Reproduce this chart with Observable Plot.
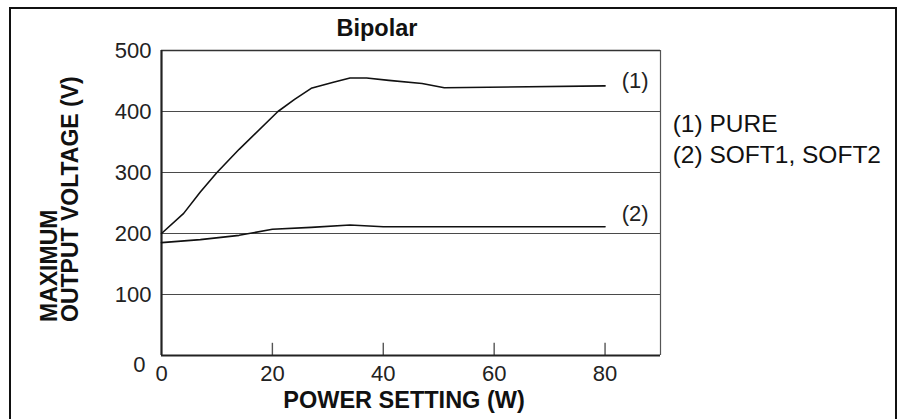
<!DOCTYPE html>
<html>
<head>
<meta charset="utf-8">
<script src="https://cdn.jsdelivr.net/npm/d3@7"></script>
<script src="https://cdn.jsdelivr.net/npm/@observablehq/plot@0.6"></script>
<style>
  html, body { margin: 0; padding: 0; background: #fff; }
  #wrap { position: relative; width: 901px; height: 419px; overflow: hidden; }
  #border { position: absolute; left: 9px; top: 7px; width: 888px; height: 430px; border: 2px solid #111; box-sizing: border-box; }
  #chart { position: absolute; left: 0; top: 0; }
</style>
</head>
<body>
<div id="wrap"><div id="border"></div><div id="chart"></div></div>
<script>
// Curve (1) PURE
const power1 = [0, 4, 7, 10, 14, 21, 24, 27, 31, 34, 37, 41, 47, 51, 80];
const volt1  = [200, 233, 268, 300, 338, 400, 420, 438, 448, 455, 455, 451, 446, 439, 442];
// Curve (2) SOFT1, SOFT2
const power2 = [0, 7, 14, 20, 27, 34, 40, 80];
const volt2  = [185, 190, 197, 207, 210, 214, 211, 211];

const xTicks = [0, 20, 40, 60, 80];
const yTicks = [0, 100, 200, 300, 400, 500];
const gridY = [100, 200, 300, 400];

const curveTags = ["(1)", "(2)"];
const tagX = [83, 83];
const tagY = [450, 232];

const legendLines = ["(1) PURE", "(2) SOFT1, SOFT2"];
const legendX = [92.2, 92.2];
const legendY = [380, 328];

const title = "Bipolar";
const xLabel = "POWER SETTING (W)";
const yLabel = "MAXIMUM\nOUTPUT VOLTAGE (V)";

const s1 = power1.map((p, i) => ({power: p, volt: volt1[i]}));
const s2 = power2.map((p, i) => ({power: p, volt: volt2[i]}));
const tags = curveTags.map((t, i) => ({t, x: tagX[i], y: tagY[i]}));
const legend = legendLines.map((t, i) => ({t, x: legendX[i], y: legendY[i]}));

const font = "'Liberation Sans', Arial, Helvetica, sans-serif";

const chart = Plot.plot({
  width: 901,
  height: 419,
  marginLeft: 161,
  marginRight: 241,
  marginTop: 50,
  marginBottom: 64,
  x: {domain: [0, 90]},
  y: {domain: [0, 500]},
  style: {fontFamily: font, fontSize: "22px", color: "#222", background: "transparent", overflow: "visible"},
  marks: [
    Plot.ruleY(gridY, {stroke: "#4a4a4a", strokeWidth: 1.2}),
    Plot.ruleY([500], {stroke: "#333", strokeWidth: 1.5}),
    Plot.ruleX([90], {stroke: "#555", strokeWidth: 1.2}),
    Plot.axisY(yTicks.filter(d => d > 0), {tickSize: 0, tickPadding: 10, label: null, fill: "#222", fontSize: 22}),
    Plot.axisY([0], {tickSize: 0, tickPadding: 16, dy: 9, label: null, fill: "#222", fontSize: 22}),
    Plot.axisX(xTicks, {tickSize: 0, tickPadding: 10, label: null, fill: "#222", fontSize: 22}),
    Plot.ruleX(xTicks.filter(d => d > 0), {y1: 0, y2: 20, stroke: "#555", strokeWidth: 1.4}),
    Plot.ruleY([0], {stroke: "#222", strokeWidth: 2.2}),
    Plot.ruleX([0], {stroke: "#222", strokeWidth: 2.2}),
    Plot.line(s1, {x: "power", y: "volt", stroke: "#111", strokeWidth: 1.6}),
    Plot.line(s2, {x: "power", y: "volt", stroke: "#111", strokeWidth: 1.6}),
    Plot.text(tags, {x: "x", y: "y", text: "t", textAnchor: "start", fill: "#222", fontSize: 22}),
    Plot.text(legend, {x: "x", y: "y", text: "t", textAnchor: "start", fill: "#111", fontSize: 24.5}),
    Plot.text([title], {frameAnchor: "top", lineAnchor: "middle", text: d => d, dx: -34, dy: -22, fontWeight: "bold", fontSize: 23.5, fill: "#111"}),
    Plot.text([xLabel], {frameAnchor: "bottom", lineAnchor: "middle", text: d => d, dx: -7, dy: 45, fontWeight: "bold", fontSize: 23.5, fill: "#111"}),
    Plot.text([yLabel], {frameAnchor: "left", rotate: -90, textAnchor: "start", lineAnchor: "middle", text: d => d, dx: -101, dy: 119, fontWeight: "bold", fontSize: 23, fill: "#111", lineHeight: 0.95})
  ]
});
document.getElementById("chart").appendChild(chart);
</script>
</body>
</html>
